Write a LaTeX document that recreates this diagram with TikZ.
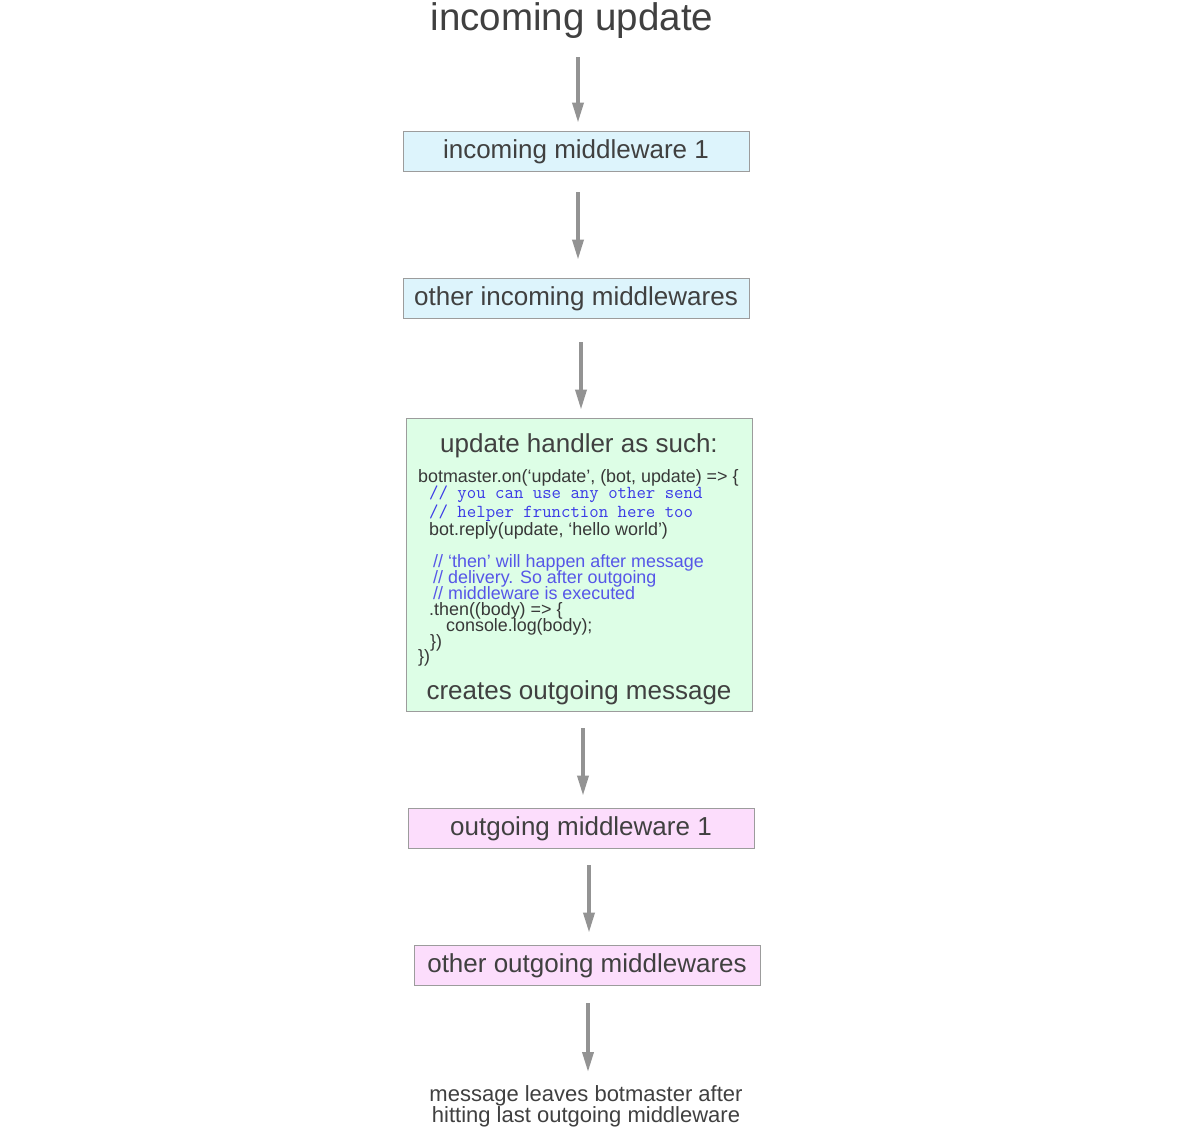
\documentclass[tikz,border=0pt]{standalone}
\usepackage{fontspec}
\setmainfont{Liberation Sans}
\usetikzlibrary{arrows.meta}
\definecolor{txtgray}{HTML}{404040}
\definecolor{codegray}{HTML}{383838}
\definecolor{boxline}{HTML}{9C9C9C}
\definecolor{arrowgray}{HTML}{939393}
\definecolor{infill}{HTML}{DDF4FC}
\definecolor{handlerfill}{HTML}{DDFEE6}
\definecolor{outfill}{HTML}{FCDDFC}
\definecolor{monoblue}{HTML}{3A3AE6}
\definecolor{noteblue}{HTML}{5656E8}

\begin{document}
\begin{tikzpicture}[x=1pt,y=-1pt,
  box/.style={draw=boxline,line width=0.8pt,minimum width=346pt,minimum height=40pt,
    inner sep=0pt,text depth=4pt,text=txtgray,font=\fontsize{26}{31}\selectfont},
  flow/.style={draw=arrowgray,line width=3.5pt,-{Triangle[length=20pt,width=11pt]}},
  code/.style={anchor=base west,inner sep=0pt,text=codegray,font=\fontsize{17.9}{20}\selectfont},
  mono/.style={code,text=monoblue,font=\ttfamily\fontsize{18.3}{20}\selectfont},
  note/.style={code,text=noteblue}]
\useasboundingbox (0,0) rectangle (1179,1128);

\node at(572,30)[anchor=base,inner sep=0pt,text=txtgray,font=\fontsize{38.5}{46}\selectfont](update){incoming update};
\node at(576,151)[box,fill=infill](in1){incoming middleware 1};
\node at(576,298)[box,fill=infill](inrest){other incoming middlewares};
\node at(579,564.5)[box,fill=handlerfill,minimum height=293pt](handler){};
\node at(579,452)[anchor=base,inner sep=0pt,text=txtgray,font=\fontsize{26}{31}\selectfont](htitle){update handler as such:};
\node at(579,699)[anchor=base,inner sep=0pt,text=txtgray,font=\fontsize{26}{31}\selectfont](hfoot){creates outgoing message};
\node at(581,828)[box,fill=outfill](out1){outgoing middleware 1};
\node at(587,965)[box,fill=outfill](outrest){other outgoing middlewares};
\node at(586,1085)[anchor=north,align=center,inner sep=0pt,text=txtgray,font=\fontsize{22}{20}\selectfont](leave){message leaves botmaster after\\hitting last outgoing middleware};

% code inside the handler box
\foreach \y/\x/\s/\t [count=\i] in {
 482/418/code/{botmaster.on(‘update’, (bot, update) => \{},
 498/429/mono/{// you can use any other send},
 517/429/mono/{// helper frunction here too},
 535/429/code/{bot.reply(update, ‘hello world’)},
 567/433/note/{// ‘then’ will happen after message},
 583/433/note/{// delivery. So after outgoing},
 599/433/note/{// middleware is executed},
 615/429/code/{.then((body) => \{},
 631/446/code/{console.log(body);},
 647/430/code/{\})},
 662/418/code/{\})}
}
\node[\s](line\i) at(\x,\y){\t};

% arrows
\foreach \a/\b/\s/\e in {update/in1/19/8, in1/inrest/21/18, inrest/handler/24/8,
  handler/out1/17/12, out1/outrest/17/12, outrest/leave/18/13}
\draw[flow,shorten <=\s pt,shorten >=\e pt] ([xshift=2pt]\b.north |- \a.south) -- ([xshift=2pt]\b.north);
\end{tikzpicture}
\end{document}
